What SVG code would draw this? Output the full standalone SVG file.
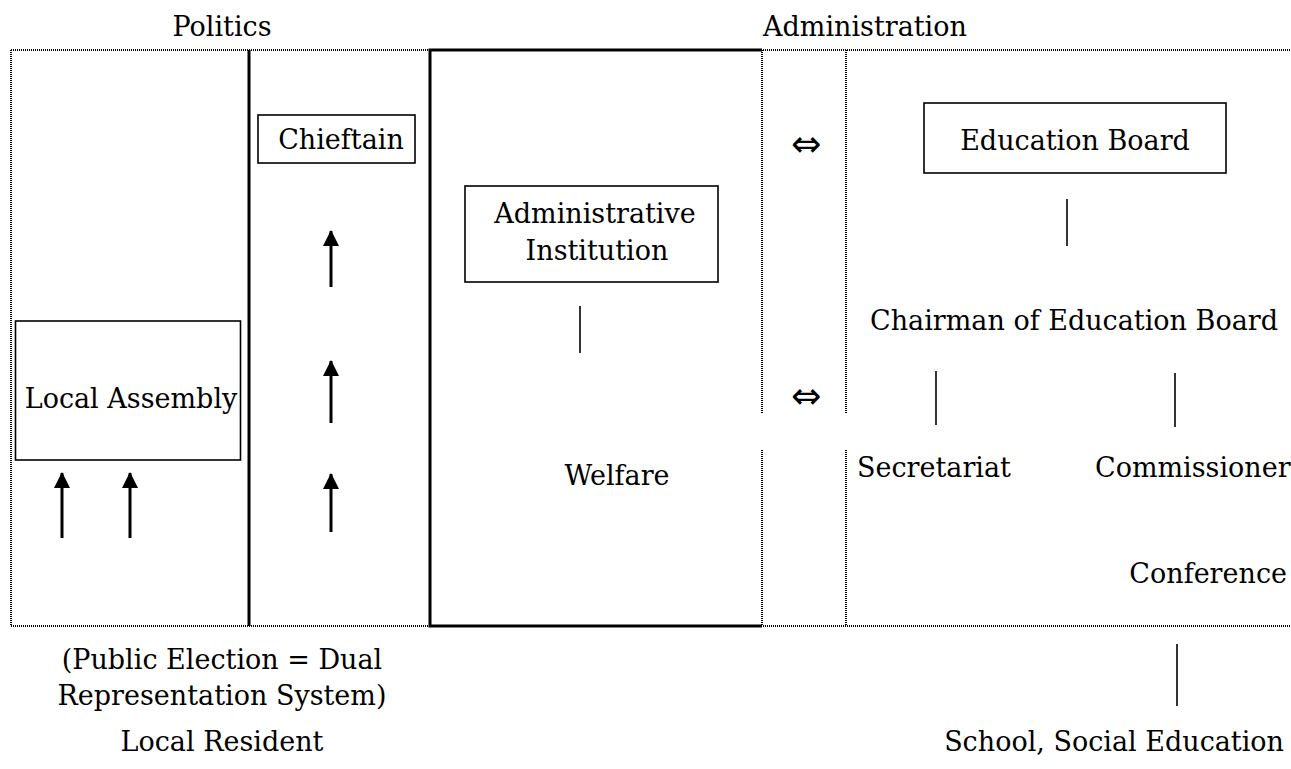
<svg xmlns="http://www.w3.org/2000/svg" width="1291" height="769" viewBox="0 0 1291 769">
  <style>
    text { font-family: "DejaVu Serif", "Liberation Serif", serif; font-size: 27px; fill: #000; }
    .mid { text-anchor: middle; }
    .end { text-anchor: end; }
    .sym { font-family: "DejaVu Sans", sans-serif; font-size: 36px; text-anchor: middle; }
    .dotted { stroke: #000; stroke-width: 2; stroke-dasharray: 1 1; fill: none; }
    .heavy { stroke: #000; stroke-width: 3; fill: none; }
    .box { stroke: #000; stroke-width: 1.6; fill: none; }
    .tie { stroke: #000; stroke-width: 1.6; }
    .arrow { stroke: #000; stroke-width: 3; marker-end: url(#head); }
  </style>
  <defs>
    <marker id="head" viewBox="0 0 16 16" markerWidth="16" markerHeight="16" refX="15" refY="8" markerUnits="userSpaceOnUse" orient="auto">
      <path d="M0,0 L16,8 L0,16 z" fill="#000"/>
    </marker>
  </defs>
  <rect width="1291" height="769" fill="#fff"/>

  <!-- section headings -->
  <g id="headings">
    <text x="222" y="36" class="mid">Politics</text>
    <text x="763" y="36">Administration</text>
  </g>

  <!-- frame: dotted borders, politics divider, administration block -->
  <g id="frame">
    <line x1="11" y1="50" x2="1291" y2="50" class="dotted"/>
    <line x1="11" y1="626" x2="1291" y2="626" class="dotted"/>
    <line x1="11" y1="50" x2="11" y2="626" class="dotted"/>
    <line x1="762" y1="50" x2="762" y2="413" class="dotted"/>
    <line x1="762" y1="450" x2="762" y2="626" class="dotted"/>
    <line x1="846" y1="50" x2="846" y2="413" class="dotted"/>
    <line x1="846" y1="450" x2="846" y2="626" class="dotted"/>
    <line x1="249" y1="50" x2="249" y2="626" class="heavy"/>
    <path d="M762,50 H430 V626 H762" class="heavy"/>
  </g>

  <g id="chieftain">
    <rect x="258" y="115" width="157" height="48" class="box"/>
    <text x="341" y="149" class="mid">Chieftain</text>
  </g>

  <g id="administrative-institution">
    <rect x="465" y="186" width="253" height="96" class="box"/>
    <text x="595" y="223" class="mid">Administrative</text>
    <text x="597" y="260" class="mid">Institution</text>
  </g>

  <g id="welfare">
    <text x="617" y="485" class="mid">Welfare</text>
  </g>

  <g id="local-assembly">
    <rect x="15.5" y="321" width="225" height="139" class="box"/>
    <text x="131" y="408" class="mid">Local Assembly</text>
  </g>

  <g id="education-board">
    <rect x="924" y="103" width="302" height="70" class="box"/>
    <text x="1075" y="150" class="mid">Education Board</text>
  </g>

  <g id="chairman">
    <text x="1074" y="330" class="mid">Chairman of Education Board</text>
  </g>

  <g id="secretariat">
    <text x="857" y="477">Secretariat</text>
  </g>

  <g id="commissioner">
    <text x="1095" y="477">Commissioner</text>
  </g>

  <g id="conference">
    <text x="1287" y="583" class="end">Conference</text>
  </g>

  <g id="election-note">
    <text x="222" y="669" class="mid">(Public Election = Dual</text>
    <text x="222" y="705" class="mid">Representation System)</text>
  </g>

  <g id="local-resident">
    <text x="222" y="751" class="mid">Local Resident</text>
  </g>

  <g id="school">
    <text x="1284" y="751" class="end">School, Social Education</text>
  </g>

  <!-- connectors -->
  <g id="connectors">
    <line x1="62" y1="538" x2="62" y2="473" class="arrow"/>
    <line x1="130" y1="538" x2="130" y2="473" class="arrow"/>
    <line x1="331" y1="287" x2="331" y2="231" class="arrow"/>
    <line x1="331" y1="423" x2="331" y2="361" class="arrow"/>
    <line x1="331" y1="532" x2="331" y2="474" class="arrow"/>
    <line x1="580" y1="306" x2="580" y2="353" class="tie"/>
    <line x1="1067" y1="199" x2="1067" y2="246" class="tie"/>
    <line x1="936" y1="371" x2="936" y2="425" class="tie"/>
    <line x1="1175" y1="373" x2="1175" y2="427" class="tie"/>
    <line x1="1177" y1="644" x2="1177" y2="706" class="tie"/>
    <text x="806" y="156" class="sym">⇔</text>
    <text x="806" y="408" class="sym">⇔</text>
  </g>
</svg>
